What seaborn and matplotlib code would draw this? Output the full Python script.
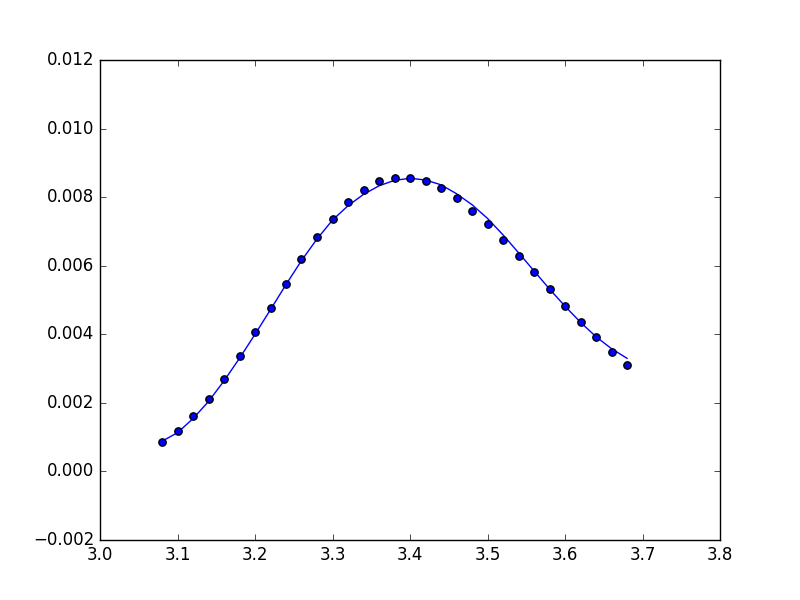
import numpy as np
import pandas as pd
import seaborn as sns
import matplotlib
matplotlib.use("Agg")
import matplotlib.pyplot as plt

# measured points
x_pts = [3.08, 3.10, 3.12, 3.14, 3.16, 3.18, 3.20, 3.22, 3.24, 3.26, 3.28,
         3.30, 3.32, 3.34, 3.36, 3.38, 3.40, 3.42, 3.44, 3.46, 3.48, 3.50,
         3.52, 3.54, 3.56, 3.58, 3.60, 3.62, 3.64, 3.66, 3.68]
y_pts = [0.00087, 0.00119, 0.00162, 0.00212, 0.00271, 0.00336, 0.00407,
         0.00477, 0.00546, 0.00619, 0.00683, 0.00736, 0.00785, 0.00822,
         0.00848, 0.00856, 0.00856, 0.00846, 0.00826, 0.00798, 0.00761,
         0.00721, 0.00676, 0.00628, 0.00581, 0.00531, 0.00482, 0.00435,
         0.00392, 0.00348, 0.00310]

# fitted curve
y_fit = [0.00088, 0.00113, 0.00154, 0.00204, 0.00264, 0.00330, 0.00400,
         0.00472, 0.00545, 0.00615, 0.00678, 0.00733, 0.00775, 0.00808,
         0.00833, 0.00849, 0.00855, 0.00850, 0.00836, 0.00810, 0.00778,
         0.00738, 0.00690, 0.00638, 0.00585, 0.00532, 0.00482, 0.00435,
         0.00393, 0.00358, 0.00330]

df = pd.DataFrame({"x": x_pts, "y": y_pts, "fit": y_fit})

plt.style.use("classic")
fig, ax = plt.subplots(figsize=(8, 6), dpi=100)
fig.patch.set_facecolor("white")

sns.lineplot(data=df, x="x", y="fit", ax=ax, color="b", linewidth=1)
sns.scatterplot(data=df, x="x", y="y", ax=ax, color="b", edgecolor="k",
                linewidth=1, s=28, zorder=3)

ax.set_xlim(3.0, 3.8)
ax.set_ylim(-0.002, 0.012)
ax.set_xlabel("")
ax.set_ylabel("")

fig.savefig("out.png", dpi=100, facecolor="white")
